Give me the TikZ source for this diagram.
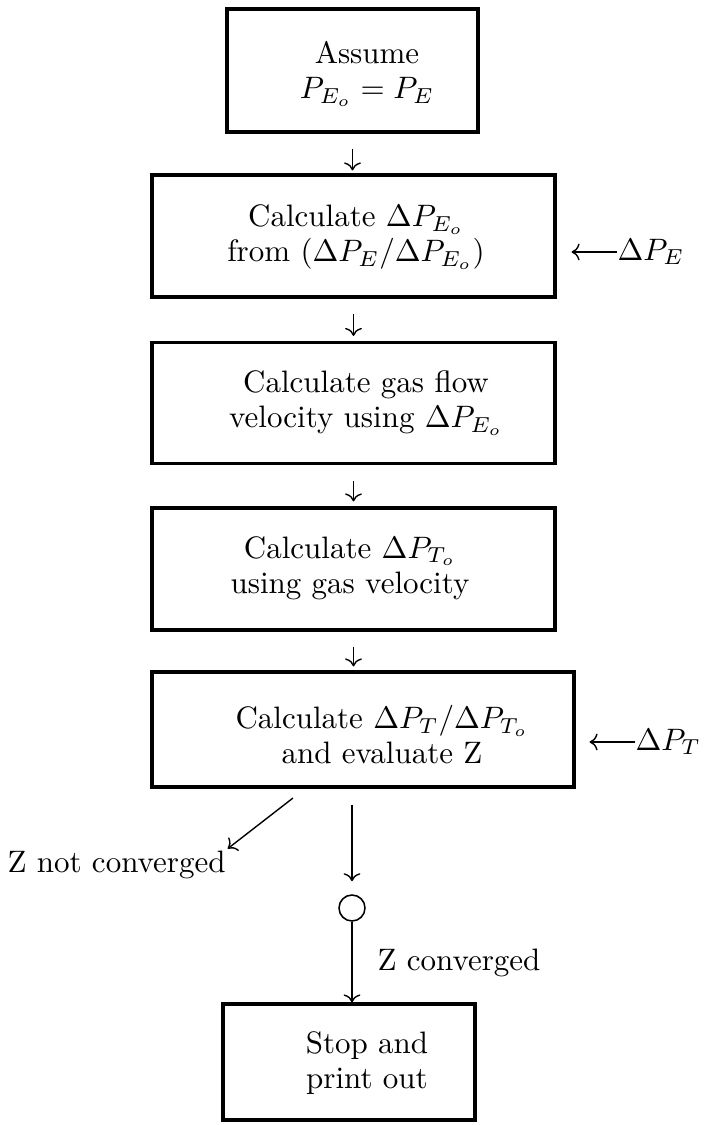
\documentclass[tikz,border=0pt]{standalone}
\usetikzlibrary{arrows.meta}
\newcommand{\pxu}{0.3226pt}
\begin{document}
\begin{tikzpicture}[x=0.3226pt, y=-0.3226pt,
  box/.style={draw, line width=1pt, inner sep=0pt},
  txt/.style={align=center, font=\fontsize{10}{11.3}\selectfont, inner sep=0pt},
  arr/.style={->, line width=0.45pt},
  circ/.style={draw, circle, line width=0.5pt, minimum size=26*\pxu, inner sep=0pt}]
\useasboundingbox (0,0) rectangle (712,1125);
% boxes
\node[box, minimum width=251*\pxu, minimum height=123*\pxu] (b1) at (352.5,70.5) {};
\node[box, minimum width=403*\pxu, minimum height=122*\pxu] (b2) at (353.5,236) {};
\node[box, minimum width=403*\pxu, minimum height=121*\pxu] (b3) at (353.5,403) {};
\node[box, minimum width=403*\pxu, minimum height=122*\pxu] (b4) at (353.5,569) {};
\node[box, minimum width=422*\pxu, minimum height=115*\pxu] (b5) at (363,729.5) {};
\node[box, minimum width=252*\pxu, minimum height=116*\pxu] (b6) at (349,1062) {};
\node[circ] (c) at (352,908) {};
% texts
\node[txt] (t1) at (367,74) {Assume\\ $P_{E_o} = P_E$};
\node[txt] (t2) at (356,237) {Calculate $\Delta P_{E_o}$\\ from $(\Delta P_E/\Delta P_{E_o})$};
\node[txt] (t3) at (366,403) {Calculate gas flow\\ velocity using $\Delta P_{E_o}$};
\node[txt] (t4) at (350,568) {Calculate $\Delta P_{T_o}$\\ using gas velocity};
\node[txt] (t5) at (382,735) {Calculate $\Delta P_T/\Delta P_{T_o}$\\ and evaluate Z};
\node[txt] (t6) at (367,1063) {Stop and\\ print out};
% side inputs
\node[txt, anchor=west] (dpe) at (617,252) {$\Delta P_E$};
\node[txt, anchor=west] (dpt) at (635,742) {$\Delta P_T$};
\draw[arr, shorten >=15*\pxu] (dpe.west) -- (b2.east |- dpe.west);
\draw[arr, shorten >=14*\pxu] (dpt.west) -- (b5.east |- dpt.west);
% labels
\node[txt, anchor=base west] (znc) at (7,872) {Z not converged};
\node[txt, anchor=base west] (zc) at (377,970) {Z converged};
% main flow
\draw[arr, shorten <=15*\pxu, shorten >=3*\pxu] (b1.south) -- (b1.south |- b2.north);
\draw[arr, shorten <=15*\pxu, shorten >=5*\pxu] (b2.south) -- (b3.north);
\draw[arr, shorten <=16*\pxu, shorten >=5*\pxu] (b3.south) -- (b4.north);
\draw[arr, shorten <=15*\pxu, shorten >=4*\pxu] (b4.south) -- (b4.south |- b5.north);
\draw[arr, shorten <=16*\pxu, shorten >=13*\pxu] (b5.south -| c.north) -- (c.north);
\draw[arr] (c.south) -- (c.south |- b6.north);
\coordinate (d1) at (293,798);
\draw[arr, shorten >=2*\pxu] (d1) -- (znc.north east);
\end{tikzpicture}
\end{document}
